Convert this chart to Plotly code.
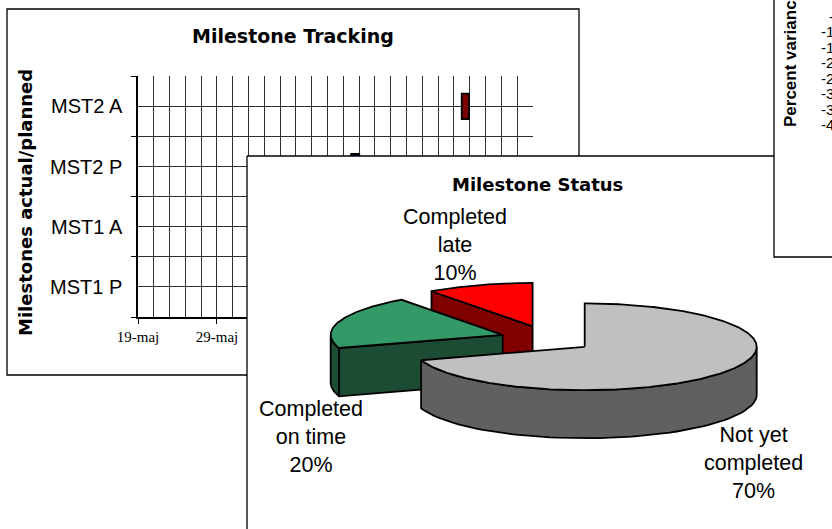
import numpy as np
import plotly.graph_objects as go

W, H = 832, 529

# ---------------- data ----------------
# Milestone tracking (horizontal bars on a date axis)
milestones = ["MST1 P", "MST1 A", "MST2 P", "MST2 A"]
milestone_start = ["2003-06-06", "2003-06-10", "2003-06-15", "2003-06-29"]
milestone_days = [1, 1, 1, 0.9]
date_ticks = ["2003-05-19", "2003-05-29", "2003-06-08", "2003-06-18", "2003-06-28", "2003-07-08"]
date_ticktext = ["19-maj", "29-maj", "8-jun", "18-jun", "28-jun", "8-jul"]

# Milestone status (3-D exploded pie)
status_names = ["Not yet<br>completed", "Completed<br>on time", "Completed<br>late"]
status_values = [70, 20, 10]

# Percent variance panel (axis labels only, mostly cut off)
variance_ticks = [-5, -10, -15, -20, -25, -30, -35, -40]
variance_ticktext = ["-5%", "-10%", "-15%", "-20%", "-25%", "-30%", "-35%", "-40%"]

# ---------------- styles / layout constants ----------------
bar_colors = ["#000080", "#800000", "#000080", "#800000"]
top_colors = ["#C0C0C0", "#339966", "#FF0000"]
side_colors = ["#606060", "#1C4C33", "#800000"]
label_pos = [(753, 463), (311, 437), (455, 245)]
GRID = "#303030"

PIE_CX, PIE_CY = 547.0, 339.0
PIE_RX, PIE_RY = 172.0, 43.4
PIE_H = 48.0
EXP_X, EXP_Y = 46.6, 13.3

def px(x):
    return x / W

def py(y):
    return 1 - y / H

fig = go.Figure()

# ---------------- milestone tracking subplot (xy) ----------------
ypos = list(range(len(milestones)))
fig.add_trace(go.Bar(
    orientation="h", y=ypos, base=milestone_start,
    x=[d * 86400000 for d in milestone_days],
    width=0.42, marker=dict(color=bar_colors, line=dict(color="black", width=2)),
    xaxis="x", yaxis="y", showlegend=False, hoverinfo="skip"))

d0 = np.datetime64(date_ticks[0])
d1 = np.datetime64(date_ticks[-1])
minor_dates = [str(d) for d in np.arange(d0, d1 + np.timedelta64(1, "D"), np.timedelta64(2, "D"))]
x_end = str(d1 + np.timedelta64(20, "m"))

# ---------------- pie panel + right panel (x2y2, pixel coords) ----------------
def add_poly(xs, ys, fill, lw=1.8):
    fig.add_trace(go.Scatter(x=xs, y=ys, mode="lines", fill="toself", fillcolor=fill,
                             line=dict(color="black", width=lw), xaxis="x2", yaxis="y2",
                             showlegend=False, hoverinfo="skip"))

# pie panel background/border
add_poly([247, 900, 900, 247, 247], [156, 156, 700, 700, 156], "white", lw=1.3)

total = float(sum(status_values))
angles = np.cumsum([0] + status_values) / total * 360.0
slices = []
for i, v in enumerate(status_values):
    a0, a1 = angles[i], angles[i + 1]
    bis = np.radians((a0 + a1) / 2)
    cx = PIE_CX + EXP_X * np.sin(bis)
    cy = PIE_CY - EXP_Y * np.cos(bis)
    slices.append((-np.cos(bis), i, a0, a1, cx, cy))
slices.sort()

def rim(cx, cy, th_deg, dz=0.0):
    t = np.radians(th_deg)
    return cx + PIE_RX * np.sin(t), cy - PIE_RY * np.cos(t) + dz

for _, i, a0, a1, cx, cy in slices:
    # radial faces
    for th, vis in ((a0, np.sin(np.radians(a0)) < -1e-9), (a1, np.sin(np.radians(a1)) > 1e-9)):
        if vis:
            rx_, ry_ = rim(cx, cy, th)
            add_poly([cx, rx_, rx_, cx, cx], [cy, ry_, ry_ + PIE_H, cy + PIE_H, cy], side_colors[i])
    # outer wall (front half only)
    s, e = max(a0, 90.0), min(a1, 270.0)
    if e > s:
        th = np.linspace(s, e, 60)
        xt, yt = rim(cx, cy, th)
        xs = np.concatenate([xt, xt[::-1], xt[:1]])
        ys = np.concatenate([yt, yt[::-1] + PIE_H, yt[:1]])
        add_poly(xs, ys, side_colors[i])
    # top face
    th = np.linspace(a0, a1, max(8, int((a1 - a0) * 1.5)))
    xt, yt = rim(cx, cy, th)
    add_poly(np.concatenate([[cx], xt, [cx]]), np.concatenate([[cy], yt, [cy]]), top_colors[i])

# right panel (on top of pie panel)
add_poly([774, 900, 900, 774, 774], [-10, -10, 257, 257, -10], "white", lw=1.3)

annotations = []
for i, v in enumerate(status_values):
    lx, ly = label_pos[i]
    annotations.append(dict(x=lx, y=ly, xref="x2", yref="y2", showarrow=False,
                            text=f"{status_names[i]}<br>{v / total * 100:.0f}%",
                            font=dict(family="Liberation Sans", size=21.5, color="black"),
                            align="center"))
annotations.append(dict(x=537, y=184, xref="x2", yref="y2", showarrow=False,
                        text="Milestone Status",
                        font=dict(family="DejaVu Sans", size=18, color="black", weight="bold")))
annotations.append(dict(x=293, y=36, xref="x2", yref="y2", showarrow=False,
                        text="Milestone Tracking",
                        font=dict(family="DejaVu Sans", size=19, color="black", weight="bold")))
annotations.append(dict(x=25, y=203, xref="x2", yref="y2", showarrow=False,
                        text="Milestones actual/planned", textangle=-90,
                        font=dict(family="DejaVu Sans", size=18, color="black", weight="bold")))
annotations.append(dict(x=790, y=59, xref="x2", yref="y2", showarrow=False,
                        text="Percent variance", textangle=-90,
                        font=dict(family="Liberation Sans", size=17, color="black", weight="bold")))
for v, t in zip(variance_ticks, variance_ticktext):
    annotations.append(dict(x=858 / W, y=v, xref="paper", yref="y3", showarrow=False,
                            xanchor="right", yanchor="middle", text=t,
                            font=dict(family="Liberation Sans", size=15, color="black")))

fig.update_layout(
    width=W, height=H, margin=dict(l=0, r=0, t=0, b=0, autoexpand=False),
    paper_bgcolor="white", plot_bgcolor="rgba(0,0,0,0)", showlegend=False,
    xaxis=dict(domain=[px(138), px(533)], anchor="y", type="date", automargin=False,
               range=[date_ticks[0], x_end],
               tickmode="array", tickvals=date_ticks, ticktext=date_ticktext,
               ticks="outside", ticklen=5, tickcolor="black",
               tickfont=dict(family="Liberation Serif", size=15, color="black"),
               showgrid=True, gridcolor=GRID, gridwidth=1,
               minor=dict(tickmode="array", tickvals=minor_dates, showgrid=True,
                          gridcolor=GRID, gridwidth=1, ticks=""),
               showline=True, linecolor="black", linewidth=1.5, zeroline=False, fixedrange=True),
    yaxis=dict(domain=[py(317), py(76)], anchor="x", range=[-0.5, len(milestones) - 0.5 + 0.004],
               automargin=False,
               tickmode="array", tickvals=ypos, ticktext=milestones, ticks="",
               tickfont=dict(family="Liberation Sans", size=20, color="black"),
               ticklabelstandoff=10,
               showgrid=True, gridcolor=GRID, gridwidth=1,
               minor=dict(tickmode="array", tickvals=[p - 0.5 for p in ypos] + [ypos[-1] + 0.5],
                          showgrid=True, gridcolor=GRID, gridwidth=1,
                          ticks="outside", ticklen=5, tickcolor="black"),
               showline=True, linecolor="black", linewidth=1.5, zeroline=False, fixedrange=True),
    xaxis2=dict(domain=[0, 1], anchor="y2", range=[0, W], visible=False, fixedrange=True,
                automargin=False),
    yaxis2=dict(domain=[0, 1], anchor="x2", range=[H, 0], visible=False, fixedrange=True,
                automargin=False),
    xaxis3=dict(domain=[0.9, 1.0], anchor="y3", visible=False, fixedrange=True, automargin=False),
    yaxis3=dict(domain=[py(140), py(0.5)], anchor="x3", range=[-45, 0], visible=False,
                automargin=False, fixedrange=True),
    shapes=[dict(type="rect", xref="paper", yref="paper", x0=px(7), x1=px(579), y0=py(9), y1=py(375),
                 line=dict(color="black", width=1.3), fillcolor="rgba(0,0,0,0)", layer="below")],
    annotations=annotations,
)

fig.write_html("out.html")
